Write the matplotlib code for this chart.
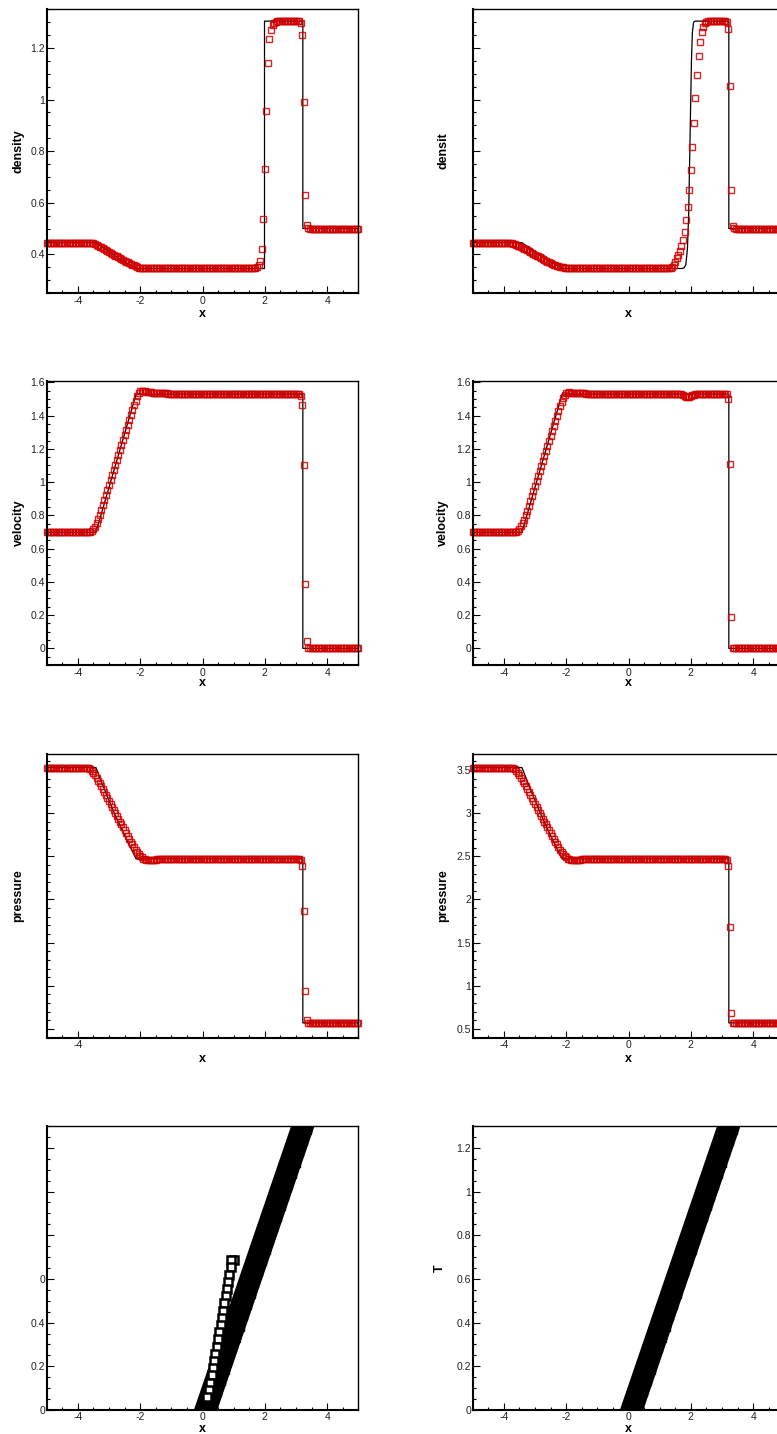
import matplotlib
matplotlib.use("agg")
import matplotlib.pyplot as plt
from matplotlib.ticker import MultipleLocator, FuncFormatter
import numpy as np

plt.rcParams['font.family'] = ['Liberation Sans', 'DejaVu Sans']
plt.rcParams['axes.unicode_minus'] = False

#### mesh nodes ####
x_nodes = np.linspace(-5.0, 5.0, 201)

#### exact solution (Lax problem, t=1.3) ####
rho_ex_x = [-5, -3.42, -3.1, -2.8, -2.5, -2.13, 1.99, 1.99, 3.22, 3.22, 5]
rho_ex = [0.445, 0.445, 0.418, 0.394, 0.371, 0.345, 0.345, 1.304, 1.304, 0.5, 0.5]
rho_ex2_x = [-5, -3.42, -3.1, -2.8, -2.5, -2.13, 1.70, 1.78, 1.84, 1.89, 1.93, 1.96,
             1.99, 2.02, 2.05, 2.09, 2.14, 3.22, 3.22, 5]
rho_ex2 = [0.445, 0.445, 0.418, 0.394, 0.371, 0.345, 0.345, 0.347, 0.36, 0.42, 0.55, 0.75,
           0.95, 1.15, 1.26, 1.30, 1.304, 1.304, 0.5, 0.5]
u_ex_x = [-5, -3.42, -2.13, 3.22, 3.22, 5]
u_ex = [0.698, 0.698, 1.529, 1.529, 0.0, 0.0]
p_ex_x = [-5, -3.42, -3.1, -2.8, -2.5, -2.13, 3.22, 3.22, 5]
p_ex = [3.528, 3.528, 3.233, 2.976, 2.740, 2.471, 2.471, 0.571, 0.571]

#### numerical solution, scheme A (left column) ####
rho_a = ([0.445]*28 +
         [0.445, 0.444, 0.442, 0.440, 0.437, 0.434, 0.430, 0.427, 0.423, 0.420,
          0.416, 0.413, 0.409, 0.406, 0.402, 0.399, 0.395, 0.392, 0.388, 0.385,
          0.382, 0.378, 0.375, 0.372, 0.369, 0.366, 0.363, 0.360, 0.357, 0.354,
          0.351, 0.348, 0.3465, 0.3455, 0.345] +
         [0.345]*69 +
         [0.345, 0.346, 0.348, 0.352, 0.36, 0.375, 0.42, 0.535, 0.73, 0.955,
          1.14, 1.235, 1.27, 1.29, 1.298, 1.302] +
         [1.305]*14 +
         [1.303, 1.295, 1.25, 0.99, 0.63, 0.515, 0.503] +
         [0.5]*32)
u_a = ([0.698]*27 +
       [0.699, 0.701, 0.706, 0.716, 0.732, 0.752, 0.777, 0.804, 0.833, 0.862,
        0.892, 0.922, 0.952, 0.982, 1.012, 1.042, 1.072, 1.102, 1.132, 1.162,
        1.192, 1.222, 1.252, 1.282, 1.312, 1.342, 1.372, 1.402, 1.432, 1.462,
        1.49, 1.515, 1.535, 1.546, 1.55, 1.549, 1.546, 1.543] +
       [1.541, 1.54, 1.539, 1.538, 1.537, 1.536, 1.536, 1.535, 1.535, 1.534,
        1.534, 1.533, 1.533, 1.532, 1.532, 1.531] +
       [1.53]*82 +
       [1.52, 1.462, 1.10, 0.388, 0.042, 0.004] +
       [0.0]*32)
p_ramp = [3.527, 3.524, 3.518, 3.507, 3.49, 3.467, 3.44, 3.41, 3.378, 3.345,
          3.311, 3.277, 3.243, 3.209, 3.175, 3.141, 3.107, 3.073, 3.039, 3.005,
          2.971, 2.937, 2.903, 2.869, 2.835, 2.801, 2.768, 2.735, 2.702, 2.67,
          2.638, 2.607, 2.578, 2.551, 2.527, 2.506, 2.487, 2.474, 2.465, 2.459,
          2.456, 2.456]
p_recover = [2.457, 2.459, 2.461, 2.463, 2.465, 2.466, 2.467, 2.468, 2.469, 2.47]
p_a = ([3.528]*25 + p_ramp + p_recover + [2.471]*86 +
       [2.46, 2.39, 1.87, 0.944, 0.60, 0.575] + [0.571]*32)

#### numerical solution, scheme B (right column) ####
rho_b = ([0.445]*23 +
         [0.445, 0.444, 0.443, 0.441, 0.439, 0.437, 0.434, 0.432, 0.429, 0.426,
          0.422, 0.419, 0.416, 0.412, 0.409, 0.405, 0.402, 0.398,
          0.395, 0.392, 0.388, 0.385, 0.382, 0.378, 0.375, 0.372, 0.369, 0.366,
          0.363, 0.360, 0.358, 0.356, 0.354, 0.352, 0.350, 0.349, 0.348, 0.347,
          0.346, 0.3455, 0.345] +
         [0.345]*62 +
         [0.346, 0.348, 0.352, 0.36, 0.372, 0.385, 0.398, 0.413, 0.432, 0.455,
          0.488, 0.532, 0.585, 0.65, 0.726, 0.815, 0.91, 1.006, 1.095, 1.169,
          1.223, 1.261, 1.283, 1.296, 1.302] +
         [1.305]*12 +
         [1.30, 1.272, 1.052, 0.651, 0.509, 0.501] +
         [0.5]*32)
u_b = ([0.698]*27 +
       [0.699, 0.702, 0.708, 0.718, 0.733, 0.752, 0.775, 0.801, 0.829, 0.858,
        0.888, 0.918, 0.948, 0.978, 1.008, 1.038, 1.068, 1.098, 1.128, 1.158,
        1.188, 1.218, 1.248, 1.278, 1.308, 1.338, 1.368, 1.398, 1.428, 1.456,
        1.482, 1.505, 1.522, 1.533, 1.538, 1.539, 1.538, 1.537] +
       [1.536, 1.535, 1.535, 1.534, 1.534, 1.533, 1.533, 1.533, 1.532, 1.532,
        1.532, 1.531, 1.531, 1.531, 1.53, 1.53] +
       [1.53]*52 +
       [1.529, 1.527, 1.523, 1.518, 1.514, 1.512, 1.513, 1.517, 1.522, 1.526,
        1.528, 1.529, 1.53] +
       [1.53]*18 +
       [1.50, 1.11, 0.19, 0.004] +
       [0.0]*33)
p_b = ([3.528]*24 + p_ramp + p_recover + [2.471]*87 +
       [2.46, 2.39, 1.685, 0.69, 0.575] + [0.571]*33)

for arr in (rho_a, u_a, p_a, rho_b, u_b, p_b):
    assert len(arr) == len(x_nodes), len(arr)

#### x-t diagram: troubled cells ####
shock_t = [0.0, 0.05, 0.1, 0.15, 0.2, 0.25, 0.3, 0.35, 0.4, 0.45, 0.5, 0.55, 0.6, 0.65,
           0.7, 0.75, 0.8, 0.85, 0.9, 0.95, 1.0, 1.05, 1.1, 1.15, 1.2, 1.25, 1.3, 1.35]
shock_x = [0.10, 0.22, 0.34, 0.46, 0.58, 0.70, 0.82, 0.94, 1.06, 1.18, 1.30, 1.42, 1.54, 1.66,
           1.78, 1.90, 2.02, 2.14, 2.26, 2.38, 2.50, 2.62, 2.74, 2.86, 2.98, 3.10, 3.22, 3.34]
contact_t = [0.686, 0.686, 0.653, 0.62, 0.587, 0.554, 0.521, 0.488, 0.455, 0.422,
             0.389, 0.356, 0.323, 0.29, 0.257, 0.224, 0.191, 0.158, 0.125, 0.092, 0.06]
contact_x = [1.0, 0.91, 0.90, 0.86, 0.82, 0.78, 0.74, 0.70, 0.66, 0.62,
             0.58, 0.54, 0.50, 0.46, 0.41, 0.37, 0.33, 0.29, 0.25, 0.2, 0.15]

red = '#d00000'
W, H = 777.0, 1434.0
fig = plt.figure(figsize=(W/100, H/100), dpi=100)
col_left = [46.7/W, 472.7/W]
row_top = [9, 381, 754, 1126]
ax_w, ax_h = 311.6/W, 284/H


def fmt(v, pos):
    if abs(v) < 1e-9:
        return '0'
    return '%g' % round(v, 6)


def make_ax(col, row, ylim, ymaj, ymin):
    ax = fig.add_axes([col_left[col], 1 - (row_top[row] + 284)/H, ax_w, ax_h])
    ax.set_xlim(-5, 5)
    ax.set_ylim(*ylim)
    ax.xaxis.set_major_locator(MultipleLocator(2))
    ax.xaxis.set_minor_locator(MultipleLocator(0.5))
    ax.yaxis.set_major_locator(MultipleLocator(ymaj))
    ax.yaxis.set_minor_locator(MultipleLocator(ymin))
    ax.xaxis.set_major_formatter(FuncFormatter(fmt))
    ax.yaxis.set_major_formatter(FuncFormatter(fmt))
    ax.tick_params(which='both', direction='in', top=False, right=False,
                   labelsize=7.5, labelcolor='#222222', width=0.8)
    ax.tick_params(which='major', length=4.7)
    ax.tick_params(which='minor', length=2.5)
    ax.tick_params(axis='x', pad=1.8)
    ax.tick_params(axis='y', pad=1.2)
    for s in ['left', 'bottom']:
        ax.spines[s].set_linewidth(1.5)
    for s in ['top', 'right']:
        ax.spines[s].set_linewidth(1.0)
    return ax


def labels(ax, xlab_y, ylab=None, ylab_x=-0.092):
    ax.set_xlabel('x', fontsize=9, fontweight='bold')
    ax.xaxis.label.set_va('baseline')
    ax.xaxis.set_label_coords(0.5, xlab_y)
    if ylab:
        ax.set_ylabel(ylab, fontsize=9, fontweight='bold')
        ax.yaxis.label.set_va('center')
        ax.yaxis.set_label_coords(ylab_x, 0.5)


def field(ax, ex_x, ex_y, num_y):
    ax.plot(ex_x, ex_y, '-', color='black', lw=0.9)
    ax.plot(x_nodes, num_y, 's', ms=5.0, mfc='none', mec=red, mew=1.0, alpha=0.85,
            clip_on=False)


def band(ax):
    ax.plot(shock_x, shock_t, '-', color='black', lw=16, solid_capstyle='projecting')
    ax.plot(shock_x, shock_t, 's', ms=11.5, color='black')


rho_lim = (0.25, 1.351)
u_lim = (-0.1, 1.608)
p_lim = (0.396, 3.685)
t_lim = (0.0, 1.3)

# row 1: density
ax = make_ax(0, 0, rho_lim, 0.2, 0.05)
field(ax, rho_ex_x, rho_ex, rho_a)
labels(ax, -0.083, 'density', -0.092)

ax = make_ax(1, 0, rho_lim, 0.2, 0.05)
field(ax, rho_ex2_x, rho_ex2, rho_b)
ax.tick_params(labelleft=False, labelbottom=False)
labels(ax, -0.083, 'densit', -0.095)

# row 2: velocity
ax = make_ax(0, 1, u_lim, 0.2, 0.05)
field(ax, u_ex_x, u_ex, u_a)
labels(ax, -0.074, 'velocity', -0.089)

ax = make_ax(1, 1, u_lim, 0.2, 0.05)
field(ax, u_ex_x, u_ex, u_b)
labels(ax, -0.074, 'velocity', -0.095)

# row 3: pressure
ax = make_ax(0, 2, p_lim, 0.5, 0.1)
field(ax, p_ex_x, p_ex, p_a)
ax.set_xticks([-4, -2, 0, 2, 4])
ax.set_xticklabels(['-4', '', '', '', ''])
ax.tick_params(labelleft=False)
labels(ax, -0.083, 'pressure', -0.092)

ax = make_ax(1, 2, p_lim, 0.5, 0.1)
field(ax, p_ex_x, p_ex, p_b)
labels(ax, -0.083, 'pressure', -0.095)

# row 4: troubled cells in the x-t plane
ax = make_ax(0, 3, t_lim, 0.2, 0.05)
band(ax)
ax.plot(contact_x, contact_t, 's', ms=5.8, mfc='white', mec='black', mew=1.8)
ax.set_yticks([0, 0.2, 0.4, 0.6, 0.8, 1.0, 1.2])
ax.set_yticklabels(['0', '0.2', '0.4', '0', '', '', ''])
labels(ax, -0.076)

ax = make_ax(1, 3, t_lim, 0.2, 0.05)
band(ax)
labels(ax, -0.076, 'T', -0.105)

fig.savefig('out.png', dpi=100)
